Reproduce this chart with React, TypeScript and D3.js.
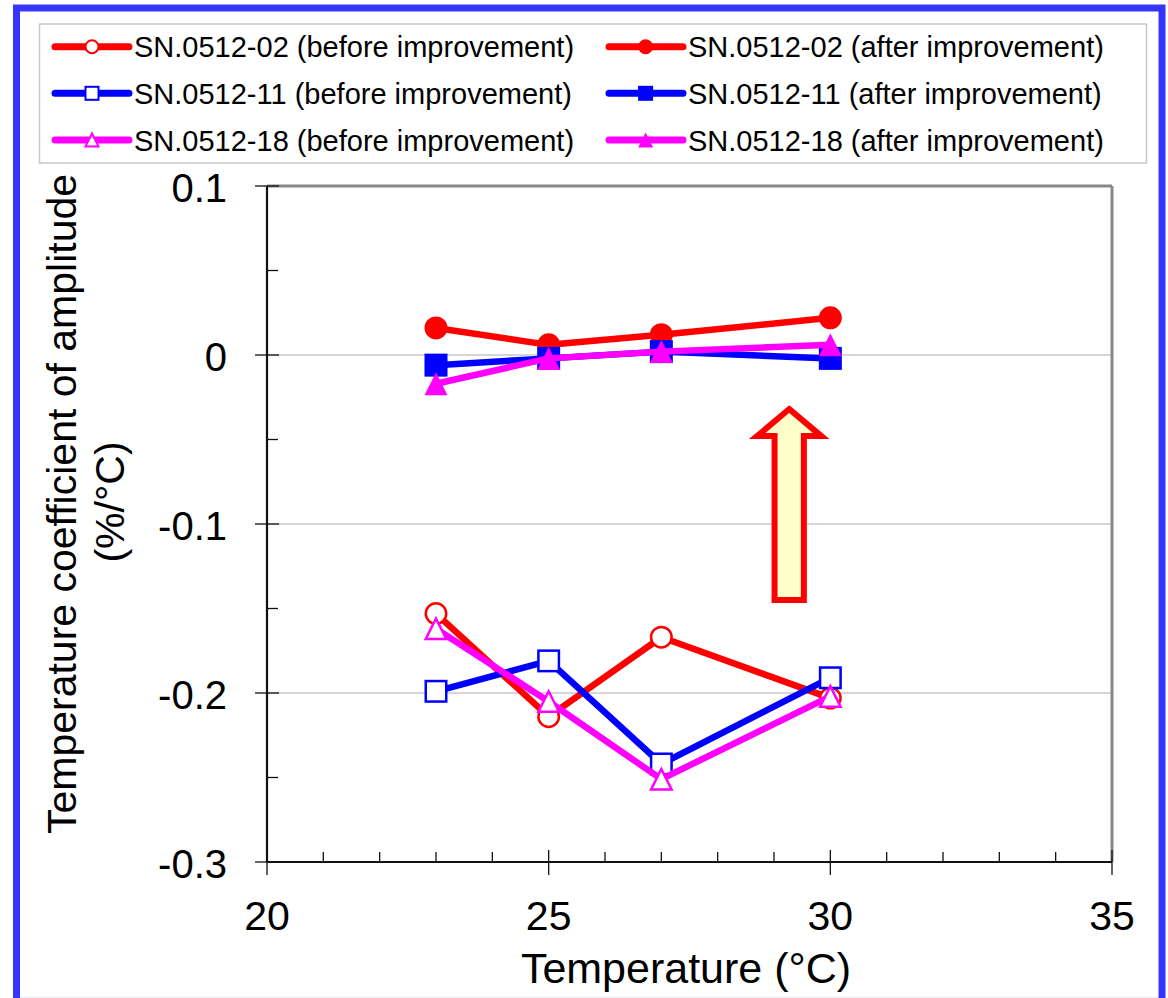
import React from "react";
import * as d3 from "d3";

const temperatures = [23, 25, 27, 30];
const sn02Before = [-0.153, -0.214, -0.167, -0.203];
const sn11Before = [-0.199, -0.181, -0.242, -0.191];
const sn18Before = [-0.162, -0.205, -0.251, -0.202];
const sn02After = [0.016, 0.006, 0.012, 0.022];
const sn11After = [-0.006, -0.002, 0.002, -0.002];
const sn18After = [-0.017, -0.002, 0.002, 0.006];

const xTicks = [20, 25, 30, 35];
const yTicks = [0.1, 0, -0.1, -0.2, -0.3];
const yTickLabels = ["0.1", "0", "-0.1", "-0.2", "-0.3"];
const gridValues = [0, -0.1, -0.2];

type Shape = "circle" | "square" | "triangle";
interface Series {
  name: string;
  values: number[];
  color: string;
  shape: Shape;
  filled: boolean;
}

const series: Series[] = [
  { name: "SN.0512-02 (before improvement)", values: sn02Before, color: "#ff0000", shape: "circle", filled: false },
  { name: "SN.0512-02 (after improvement)", values: sn02After, color: "#ff0000", shape: "circle", filled: true },
  { name: "SN.0512-11 (before improvement)", values: sn11Before, color: "#0000ff", shape: "square", filled: false },
  { name: "SN.0512-11 (after improvement)", values: sn11After, color: "#0000ff", shape: "square", filled: true },
  { name: "SN.0512-18 (before improvement)", values: sn18Before, color: "#ff00ff", shape: "triangle", filled: false },
  { name: "SN.0512-18 (after improvement)", values: sn18After, color: "#ff00ff", shape: "triangle", filled: true },
];

// arrow annotation in data units
const arrowTip = { x: 29.27, y: -0.032 };
const arrowHead = { x0: 28.70, x1: 29.84, y: -0.048 };
const arrowShaft = { x0: 29.01, x1: 29.53, y: -0.145 };

const FONT = "Arial, 'Liberation Sans', Helvetica, sans-serif";

function Marker({ shape, filled, color, cx, cy, size, sw }: { shape: Shape; filled: boolean; color: string; cx: number; cy: number; size: number; sw: number }) {
  const fill = filled ? color : "#ffffff";
  const h = size / 2;
  if (shape === "circle") {
    return <circle cx={cx} cy={cy} r={h - (filled ? 0 : sw / 2)} fill={fill} stroke={color} strokeWidth={filled ? 0 : sw} />;
  }
  if (shape === "square") {
    const inset = filled ? 0 : sw / 2;
    return <rect x={cx - h + inset} y={cy - h + inset} width={size - 2 * inset} height={size - 2 * inset} fill={fill} stroke={color} strokeWidth={filled ? 0 : sw} />;
  }
  const inset = filled ? 0 : sw / 2;
  const p = [
    [cx, cy - h + inset],
    [cx + h - inset, cy + h - inset],
    [cx - h + inset, cy + h - inset],
  ];
  return <polygon points={p.map((q) => q.join(",")).join(" ")} fill={fill} stroke={color} strokeWidth={filled ? 0 : sw} strokeLinejoin="miter" />;
}

export default function App() {
  const W = 1168;
  const H = 998;
  const left = 267, right = 1112, top = 186, bottom = 862;
  const x = d3.scaleLinear().domain([20, 35]).range([left, right]);
  const y = d3.scaleLinear().domain([-0.3, 0.1]).range([bottom, top]);

  const line = d3
    .line<number>()
    .x((_, i) => x(temperatures[i]))
    .y((v) => y(v));

  const xMinor = d3.range(21, 35).filter((v) => v % 5 !== 0);
  const yMinor = d3.range(-0.25, 0.1, 0.1).map((v) => +v.toFixed(2));

  const arrowPts = [
    [x(arrowTip.x), y(arrowTip.y)],
    [x(arrowHead.x1), y(arrowHead.y)],
    [x(arrowShaft.x1), y(arrowHead.y)],
    [x(arrowShaft.x1), y(arrowShaft.y)],
    [x(arrowShaft.x0), y(arrowShaft.y)],
    [x(arrowShaft.x0), y(arrowHead.y)],
    [x(arrowHead.x0), y(arrowHead.y)],
  ];

  // legend layout
  const legendRows = [46.7, 93.3, 140];
  const legendCols = [
    { lx0: 55, lx1: 129, mx: 92, tx: 134 },
    { lx0: 609, lx1: 683, mx: 645.6, tx: 688 },
  ];

  return (
    <svg width={W} height={H} style={{ position: "absolute", left: 0, top: 0, display: "block", background: "#ffffff" }} fontFamily={FONT}>
      {/* outer frame */}
      <rect x={16.5} y={8} width={1145.5} height={1000} fill="none" stroke="#3535ff" strokeWidth={7} />
      <line x1={20} x2={1158} y1={997.5} y2={997.5} stroke="#eaeaff" strokeWidth={1.5} />

      {/* legend */}
      <rect x={39.5} y={24} width={1107} height={139} fill="#ffffff" stroke="#c8c8c8" strokeWidth={1.5} />
      {series.map((s, i) => {
        const col = legendCols[i % 2];
        const ry = legendRows[Math.floor(i / 2)];
        return (
          <g key={"lg" + i}>
            <line x1={col.lx0} x2={col.lx1} y1={ry} y2={ry} stroke={s.color} strokeWidth={7} strokeLinecap="round" />
            <Marker shape={s.shape} filled={s.filled} color={s.color} cx={col.mx} cy={ry} size={15} sw={2} />
            <text x={col.tx} y={ry + 10.5} fontSize={29} fill="#000000">
              {s.name}
            </text>
          </g>
        );
      })}

      {/* gridlines */}
      {gridValues.map((v) => (
        <line key={"g" + v} x1={left} x2={right} y1={y(v)} y2={y(v)} stroke="#c8c8c8" strokeWidth={1.3} />
      ))}

      {/* plot border top/right */}
      <line x1={left} x2={right} y1={top} y2={top} stroke="#888888" strokeWidth={3} />
      <line x1={right} x2={right} y1={top} y2={bottom} stroke="#888888" strokeWidth={3} />

      {/* arrow */}
      <polygon points={arrowPts.map((p) => p.join(",")).join(" ")} fill="#ffffcc" stroke="#ff0000" strokeWidth={6} strokeLinejoin="miter" />

      {/* axes */}
      <line x1={left} x2={left} y1={top} y2={bottom} stroke="#111111" strokeWidth={2.2} />
      <line x1={left} x2={right} y1={bottom} y2={bottom} stroke="#111111" strokeWidth={2.2} />
      {yTicks.map((v) => (
        <line key={"yt" + v} x1={left - 12} x2={left + 12} y1={y(v)} y2={y(v)} stroke="#111111" strokeWidth={1.3} />
      ))}
      {yMinor.map((v) => (
        <line key={"ym" + v} x1={left} x2={left + 11} y1={y(v)} y2={y(v)} stroke="#111111" strokeWidth={1.3} />
      ))}
      {xTicks.map((v) => (
        <line key={"xt" + v} x1={x(v)} x2={x(v)} y1={bottom - 12} y2={bottom + 13} stroke="#111111" strokeWidth={1.3} />
      ))}
      {xMinor.map((v) => (
        <line key={"xm" + v} x1={x(v)} x2={x(v)} y1={bottom - 10} y2={bottom} stroke="#111111" strokeWidth={1.3} />
      ))}

      {/* tick labels */}
      {yTicks.map((v, i) => (
        <text key={"yl" + v} x={227} y={y(v) + 16} fontSize={40} textAnchor="end" fill="#000000">
          {yTickLabels[i]}
        </text>
      ))}
      {xTicks.map((v) => (
        <text key={"xl" + v} x={x(v)} y={930} fontSize={41} textAnchor="middle" fill="#000000">
          {String(v)}
        </text>
      ))}

      {/* axis titles */}
      <text x={686} y={983} fontSize={43} textAnchor="middle" fill="#000000">
        Temperature (°C)
      </text>
      <text transform="translate(76,504) rotate(-90)" fontSize={41} textAnchor="middle" fill="#000000">
        Temperature coefficient of amplitude
      </text>
      <text transform="translate(124,502) rotate(-90)" fontSize={41} textAnchor="middle" fill="#000000">
        (%/°C)
      </text>

      {/* series */}
      {series.map((s, i) => (
        <g key={"s" + i}>
          <path d={line(s.values) || ""} fill="none" stroke={s.color} strokeWidth={6.5} strokeLinejoin="round" />
          {s.values.map((v, j) => (
            <Marker key={j} shape={s.shape} filled={s.filled} color={s.color} cx={x(temperatures[j])} cy={y(v)} size={23} sw={2.5} />
          ))}
        </g>
      ))}
    </svg>
  );
}
